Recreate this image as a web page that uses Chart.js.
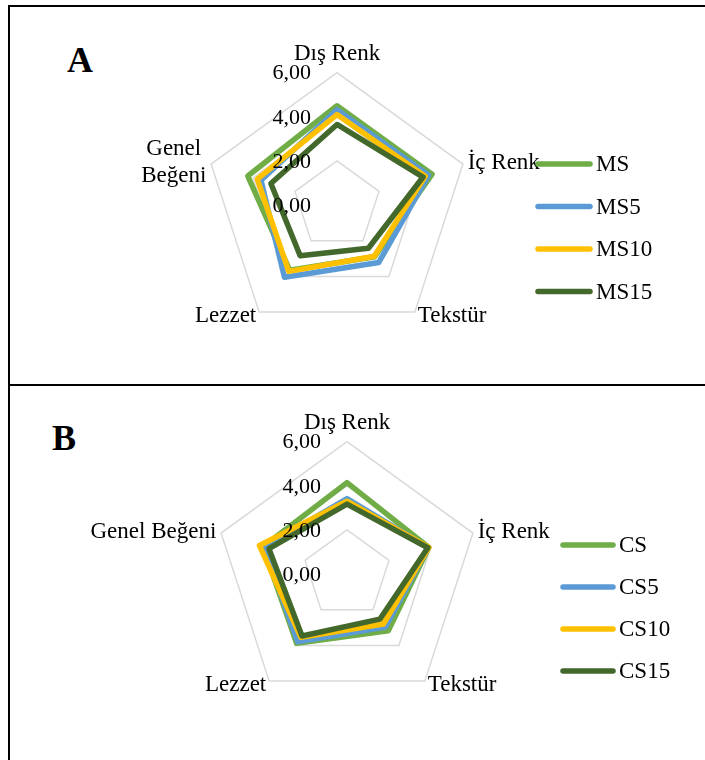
<!DOCTYPE html>
<html>
<head>
<meta charset="utf-8">
<script src="https://cdn.jsdelivr.net/npm/chart.js@4/dist/chart.umd.min.js"></script>
<style>
  body { margin: 0; background: #fff; width: 705px; height: 760px; position: relative; overflow: hidden; }
  .rule { position: absolute; background: #000; }
  .tag { position: absolute; font: bold 36px 'Liberation Serif', serif; line-height: 36px; color: #000; }
  canvas { position: absolute; left: 0; }
</style>
</head>
<body>
<div class="rule" style="left:8px; top:5px; width:697px; height:2px"></div>
<div class="rule" style="left:8px; top:5px; width:2px; height:755px"></div>
<div class="rule" style="left:8px; top:384px; width:697px; height:2px"></div>
<div class="tag" style="left:67px; top:42px">A</div>
<div class="tag" style="left:52px; top:420px">B</div>
<canvas id="chartA" width="705" height="385" style="top:0"></canvas>
<canvas id="chartB" width="705" height="375" style="top:385px"></canvas>
<script>
// axis names (panel A wraps the last one on two lines)
const categoriesA = ['Dış Renk', 'İç Renk', 'Tekstür', 'Lezzet', ['Genel', 'Beğeni']];
const categoriesB = ['Dış Renk', 'İç Renk', 'Tekstür', 'Lezzet', 'Genel Beğeni'];

// panel A
const seriesA = ['MS', 'MS5', 'MS10', 'MS15'];
const ms   = [4.50, 4.53, 2.90, 3.65, 4.25];
const ms5  = [4.32, 4.37, 3.22, 4.05, 3.62];
const ms10 = [4.10, 4.20, 2.87, 3.72, 3.80];
const ms15 = [3.65, 4.10, 2.42, 2.84, 3.15];

// panel B
const seriesB = ['CS', 'CS5', 'CS10', 'CS15'];
const cs   = [4.14, 3.90, 3.18, 3.88, 4.00];
const cs5  = [3.42, 3.88, 2.97, 3.80, 3.95];
const cs10 = [3.30, 3.90, 2.80, 3.55, 4.17];
const cs15 = [3.17, 3.85, 2.53, 3.47, 3.72];

// value axis
const axisMin = 0;
const axisMax = 6;
const axisStep = 2;

const colors = ['#70AD47', '#5B9BD5', '#FFC000', '#43682B'];
const serif = "'Liberation Serif', 'Times New Roman', serif";
const labelPad = 5;
const lineW = 5.5;

// Excel puts side labels centred on their spoke, not above/below it,
// and centres the lines of a wrapped label
function centerSideLabels(scale) {
    const items = scale._pointLabelItems;
    if (!items) return;
    for (let i = 1; i < items.length; i++) {
        const item = items[i];
        const h = item.bottom - item.top;
        const pos = scale.getPointPosition(i, scale.drawingArea + labelPad);
        item.y = pos.y - h / 2;
        item.top = item.y;
        item.bottom = item.y + h;
        if (Array.isArray(scale._pointLabels[i])) {
            item.x = (item.left + item.right) / 2;
            item.textAlign = 'center';
        }
    }
}

// tick labels sit left of the top spoke, 0,00 included
const tickLabels = {
    id: 'tickLabels',
    afterDatasetsDraw(chart) {
        const scale = chart.scales.r;
        const ctx = chart.ctx;
        ctx.save();
        ctx.font = '22px ' + serif;
        ctx.fillStyle = '#000';
        ctx.textAlign = 'right';
        ctx.textBaseline = 'middle';
        scale.ticks.forEach(t => {
            const d = scale.getDistanceFromCenterForValue(t.value);
            ctx.fillText(t.label, scale.xCenter - 26, scale.yCenter - d + 1);
        });
        ctx.restore();
    }
};

const sideLegend = {
    id: 'sideLegend',
    afterDraw(chart, args, opts) {
        const ctx = chart.ctx;
        ctx.save();
        ctx.font = '23px ' + serif;
        ctx.textBaseline = 'middle';
        chart.data.datasets.forEach((ds, i) => {
            const y = opts.y + i * opts.gap;
            ctx.strokeStyle = ds.borderColor;
            ctx.lineWidth = lineW;
            ctx.lineCap = 'round';
            ctx.beginPath();
            ctx.moveTo(opts.x, y);
            ctx.lineTo(opts.x + opts.len, y);
            ctx.stroke();
            ctx.fillStyle = '#000';
            ctx.fillText(ds.label, opts.x + opts.len + 6, y + 1);
        });
        ctx.restore();
    }
};

function makeRadar(id, labels, names, values, padding, legendPos) {
    return new Chart(document.getElementById(id), {
        type: 'radar',
        data: {
            labels: labels,
            datasets: names.map((name, i) => ({
                label: name,
                data: values[i],
                borderColor: colors[i],
                backgroundColor: 'transparent',
                borderWidth: lineW,
                borderJoinStyle: 'round',
                fill: false,
                pointRadius: 0,
                order: names.length - i
            }))
        },
        options: {
            responsive: false,
            animation: false,
            layout: { padding: padding },
            plugins: {
                legend: { display: false },
                tooltip: { enabled: false },
                sideLegend: legendPos
            },
            scales: {
                r: {
                    min: axisMin,
                    max: axisMax,
                    ticks: {
                        stepSize: axisStep,
                        display: false,
                        callback: v => v.toFixed(2).replace('.', ',')
                    },
                    grid: { color: '#D9D9D9', lineWidth: 1.5 },
                    angleLines: { display: false },
                    pointLabels: {
                        font: { family: serif, size: 23 },
                        color: '#000',
                        padding: labelPad
                    },
                    afterFit: centerSideLabels
                }
            }
        },
        plugins: [tickLabels, sideLegend]
    });
}

makeRadar('chartA', categoriesA, seriesA, [ms, ms5, ms10, ms15],
    { left: 90, right: 121, top: 24, bottom: 31 },
    { x: 538, y: 164, gap: 42.5, len: 52 });

makeRadar('chartB', categoriesB, seriesB, [cs, cs5, cs10, cs15],
    { left: 50, right: 61, top: 8, bottom: 37 },
    { x: 563, y: 160, gap: 42, len: 50 });
</script>
</body>
</html>
